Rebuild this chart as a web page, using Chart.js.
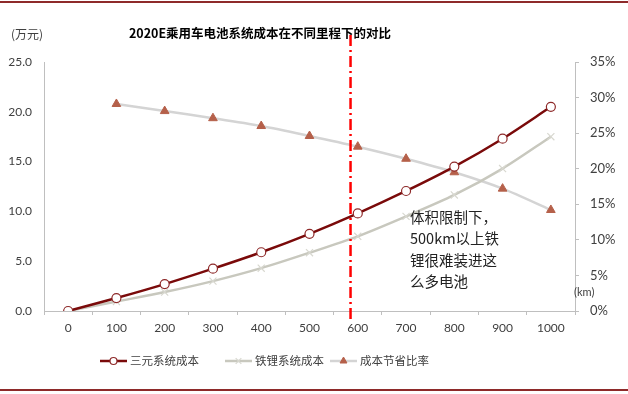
<!doctype html>
<html lang="zh">
<head>
<meta charset="UTF-8">
<title>2020E乘用车电池系统成本在不同里程下的对比</title>
<style>
  html, body { margin: 0; padding: 0; background: #fff; }
  #wrap { width: 628px; height: 394px; }
</style>
</head>
<body>
<div id="wrap"><canvas id="myChart" width="628" height="394"></canvas></div>
<script src="https://cdn.jsdelivr.net/npm/chart.js"></script>
<script>
// 里程 (km)
var mileage = ['0', '100', '200', '300', '400', '500', '600', '700', '800', '900', '1000'];
// 三元系统成本 (万元)
var ternaryCost = [0, 1.3, 2.7, 4.25, 5.9, 7.75, 9.8, 12.05, 14.5, 17.3, 20.5];
// 铁锂系统成本 (万元)
var lfpCost = [0, 0.95, 1.9, 3.0, 4.3, 5.85, 7.5, 9.5, 11.65, 14.3, 17.5];
// 成本节省比率 (%)
var savingRate = [null, 29.1, 28.1, 27.1, 26.0, 24.6, 23.1, 21.4, 19.5, 17.2, 14.2];
// 体积限制线 (km)
var limitKm = 585;
var noteLines = ['体积限制下，', '500km以上铁', '锂很难装进这', '么多电池'];

var cjk = '"Noto Sans CJK SC", "Noto Sans", sans-serif';
var num = 'Lato, "Open Sans", sans-serif';

var extras = {
    id: 'extras',
    afterDraw: function(chart) {
        var ctx = chart.ctx;
        var x = chart.scales.x;
        ctx.save();

        // 上下边框线
        ctx.strokeStyle = '#8E2A2A';
        ctx.lineWidth = 2;
        ctx.beginPath();
        ctx.moveTo(0, 2); ctx.lineTo(628, 2);
        ctx.moveTo(0, 390); ctx.lineTo(628, 390);
        ctx.stroke();

        // 标题
        ctx.fillStyle = '#000';
        ctx.font = 'bold 12.5px ' + cjk;
        ctx.textAlign = 'center';
        ctx.textBaseline = 'middle';
        ctx.fillText('2020E乘用车电池系统成本在不同里程下的对比', 260, 33);

        // 单位
        ctx.fillStyle = '#404040';
        ctx.font = '12px ' + cjk;
        ctx.textAlign = 'left';
        ctx.fillText('(万元)', 11, 34);
        ctx.font = '11px ' + num;
        ctx.fillText('(km)', 574, 292);

        // 红色点划线
        var px = x.getPixelForValue(limitKm / 100);
        ctx.strokeStyle = '#FF0000';
        ctx.lineWidth = 2.5;
        ctx.setLineDash([11, 4, 2, 4]);
        ctx.beginPath();
        ctx.moveTo(px, 35);
        ctx.lineTo(px, 320);
        ctx.stroke();
        ctx.setLineDash([]);

        // 注释
        ctx.fillStyle = '#222';
        ctx.font = '14.5px ' + cjk;
        noteLines.forEach(function(t, i) {
            ctx.fillText(t, 410, 217 + i * 21.5);
        });

        // 图例
        var starts = [100, 225, 330];
        chart.data.datasets.forEach(function(ds, i) {
            var lx = starts[i], ly = 361;
            ctx.strokeStyle = ds.borderColor;
            ctx.lineWidth = ds.borderWidth;
            ctx.beginPath();
            ctx.moveTo(lx, ly); ctx.lineTo(lx + 27, ly);
            ctx.stroke();
            ctx.fillStyle = ds.pointBackgroundColor;
            ctx.strokeStyle = ds.pointBorderColor;
            ctx.lineWidth = ds.pointBorderWidth;
            Chart.helpers.drawPoint(ctx, {
                pointStyle: ds.pointStyle,
                radius: ds.pointRadius - 1,
                rotation: 0,
                borderWidth: ds.pointBorderWidth
            }, lx + 13.5, ly);
            ctx.fillStyle = '#404040';
            ctx.font = '11.5px ' + cjk;
            ctx.textAlign = 'left';
            ctx.fillText(ds.label, lx + 30, ly);
        });
        ctx.restore();
    }
};

var ctx = document.getElementById('myChart').getContext('2d');
var chart = new Chart(ctx, {
    type: 'line',
    data: {
        labels: mileage,
        datasets: [{
            label: '三元系统成本',
            data: ternaryCost,
            yAxisID: 'y',
            borderColor: '#7A0A0A',
            borderWidth: 2.5,
            tension: 0.3,
            pointStyle: 'circle',
            pointRadius: 4.5,
            pointBackgroundColor: '#FFFFFF',
            pointBorderColor: '#8E2A2A',
            pointBorderWidth: 1.2
        }, {
            label: '铁锂系统成本',
            data: lfpCost,
            yAxisID: 'y',
            borderColor: '#C8C8BE',
            borderWidth: 2.5,
            tension: 0.3,
            pointStyle: 'crossRot',
            pointRadius: 5,
            pointBackgroundColor: '#D8D8D0',
            pointBorderColor: '#D8D8D0',
            pointBorderWidth: 1.2
        }, {
            label: '成本节省比率',
            data: savingRate,
            yAxisID: 'y1',
            borderColor: '#D4D4D4',
            borderWidth: 2.5,
            tension: 0.3,
            pointStyle: 'triangle',
            pointRadius: 5,
            pointBackgroundColor: '#B5604A',
            pointBorderColor: '#B5604A',
            pointBorderWidth: 1
        }]
    },
    options: {
        responsive: false,
        animation: false,
        layout: { padding: { top: 62, left: 0, right: 0, bottom: 0 } },
        plugins: {
            legend: { display: false },
            title: { display: false },
            tooltip: { enabled: false }
        },
        scales: {
            x: {
                offset: true,
                grid: { offset: true, drawOnChartArea: false, drawTicks: true, tickLength: 4, color: '#BFBFBF' },
                border: { color: '#BFBFBF', width: 1 },
                ticks: { color: '#404040', font: { family: num, size: 12 }, padding: 6, maxRotation: 0, autoSkip: false },
                afterFit: function(s) { s.height = 83; }
            },
            y: {
                position: 'left',
                min: 0, max: 25,
                grid: { drawOnChartArea: false, drawTicks: false },
                border: { color: '#BFBFBF', width: 1 },
                ticks: {
                    stepSize: 5, padding: 12, color: '#404040',
                    font: { family: num, size: 12 },
                    callback: function(v) { return v.toFixed(1); }
                },
                afterFit: function(s) { s.width = 44; }
            },
            y1: {
                position: 'right',
                min: 0, max: 35,
                grid: { drawOnChartArea: false, drawTicks: true, tickLength: 4, color: '#BFBFBF' },
                border: { color: '#BFBFBF', width: 1 },
                ticks: {
                    stepSize: 5, padding: 11, color: '#404040',
                    font: { family: num, size: 13 },
                    callback: function(v) { return v + '%'; }
                },
                afterFit: function(s) { s.width = 53; }
            }
        }
    },
    plugins: [extras]
});
</script>
</body>
</html>
